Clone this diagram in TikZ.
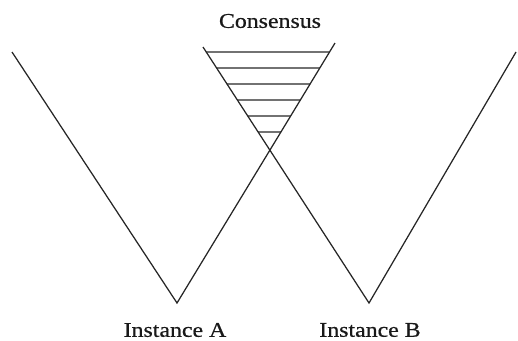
\documentclass[tikz,border=0pt]{standalone}
\usepackage{fontspec}
\setmainfont[FakeStretch=1.14,FakeBold=0.6]{Liberation Serif}
\begin{document}
\begin{tikzpicture}[x=1bp,y=-1bp,
  arm/.style={line width=1.25bp, draw=black!85},
  hatchline/.style={line width=1.25bp, draw=black!85},
  lbl/.style={font=\fontsize{21}{24}\selectfont, text=black!90, inner sep=0pt}]
\useasboundingbox (0,0) rectangle (518,340);
% left V
\coordinate (aL) at (12,52);
\coordinate (aB) at (177,303);
\coordinate (aR) at (335,43);
% right V
\coordinate (bL) at (203,47);
\coordinate (bB) at (369,303);
\coordinate (bR) at (516,52);
\draw[arm] (aL) -- (aB) -- (aR);
\draw[arm] (bL) -- (bB) -- (bR);
% hatching between the crossing arms
\foreach \yy in {52,68,84,100,116,132}{
  \draw[hatchline] (intersection of bB--bL and 0,\yy--518,\yy) --
                   (intersection of aB--aR and 0,\yy--518,\yy);
}
\node[lbl] (cons) at (270,21) {Consensus};
\node[lbl] (insA) at (175,330) {Instance A};
\node[lbl] (insB) at (370,330) {Instance B};
\end{tikzpicture}
\end{document}
